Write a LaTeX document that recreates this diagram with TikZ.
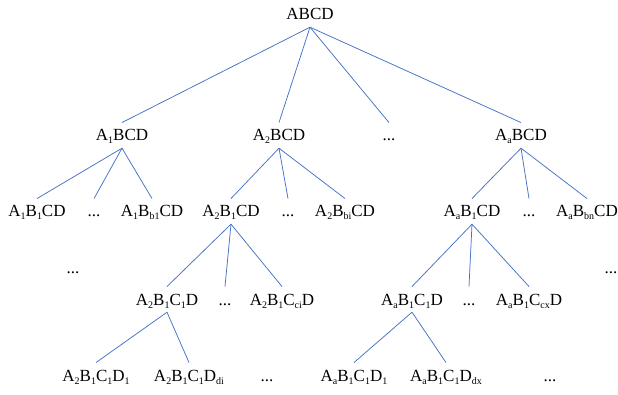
\documentclass[tikz,border=0pt]{standalone}
\usepackage{fontspec}
\setmainfont{Liberation Serif}
\definecolor{edgeblue}{RGB}{68,114,196}
% small lowered index
\newcommand\sbx[1]{\raisebox{-3pt}{\fontsize{10}{10}\selectfont #1}}
\begin{document}
\begin{tikzpicture}[x=1pt, y=-1pt,
  lbl/.style={anchor=base, font=\fontsize{17}{20}\selectfont,
    text height=11.25pt, text depth=0pt, inner xsep=0pt, inner ysep=7pt},
  edge/.style={draw=edgeblue, line width=0.75pt}]
\useasboundingbox (0,0) rectangle (618,395);

% root
\node[lbl] (r) at (310,20) {ABCD};

% level 1
\node[lbl] (a1) at (122,141) {A\sbx{1}BCD};
\node[lbl] (a2) at (279,141) {A\sbx{2}BCD};
\node[lbl] (ad) at (389,141) {...};
\node[lbl] (aa) at (521,141) {A\sbx{a}BCD};

% level 2
\node[lbl] (a1b1) at (37,217)  {A\sbx{1}B\sbx{1}CD};
\node[lbl] (a1bd) at (94,217)  {...};
\node[lbl] (a1bn) at (152,217) {A\sbx{1}B\sbx{b1}CD};
\node[lbl] (a2b1) at (231,217) {A\sbx{2}B\sbx{1}CD};
\node[lbl] (a2bd) at (288,217) {...};
\node[lbl] (a2bn) at (345,217) {A\sbx{2}B\sbx{bi}CD};
\node[lbl] (aab1) at (472,217) {A\sbx{a}B\sbx{1}CD};
\node[lbl] (aabd) at (529,217) {...};
\node[lbl] (aabn) at (587,217) {A\sbx{a}B\sbx{bn}CD};

% loose dots between levels 2 and 3
\node[lbl] (dl) at (73,273)  {...};
\node[lbl] (dr) at (611,273) {...};

% level 3
\node[lbl] (a2c1) at (167,305) {A\sbx{2}B\sbx{1}C\sbx{1}D};
\node[lbl] (a2cd) at (225,305) {...};
\node[lbl] (a2cn) at (282,305) {A\sbx{2}B\sbx{1}C\sbx{ci}D};
\node[lbl] (aac1) at (412,305) {A\sbx{a}B\sbx{1}C\sbx{1}D};
\node[lbl] (aacd) at (469,305) {...};
\node[lbl] (aacn) at (529,305) {A\sbx{a}B\sbx{1}C\sbx{cx}D};

% level 4
\node[lbl] (a2d1) at (96,381)  {A\sbx{2}B\sbx{1}C\sbx{1}D\sbx{1}};
\node[lbl] (a2dn) at (189,381) {A\sbx{2}B\sbx{1}C\sbx{1}D\sbx{di}};
\node[lbl] (a2dd) at (267,381) {...};
\node[lbl] (aad1) at (354,381) {A\sbx{a}B\sbx{1}C\sbx{1}D\sbx{1}};
\node[lbl] (aadn) at (446,381) {A\sbx{a}B\sbx{1}C\sbx{1}D\sbx{dx}};
\node[lbl] (aadd) at (550,381) {...};

% connectors
\foreach \p/\c in {r/a1, r/a2, r/ad, r/aa,
                   a1/a1b1, a1/a1bd, a1/a1bn,
                   a2/a2b1, a2/a2bd, a2/a2bn,
                   aa/aab1, aa/aabd, aa/aabn,
                   a2b1/a2c1, a2b1/a2cd, a2b1/a2cn,
                   aab1/aac1, aab1/aacd, aab1/aacn,
                   a2c1/a2d1, a2c1/a2dn,
                   aac1/aad1, aac1/aadn}
  \draw[edge] (\p.south) -- (\c.north);
\end{tikzpicture}
\end{document}
